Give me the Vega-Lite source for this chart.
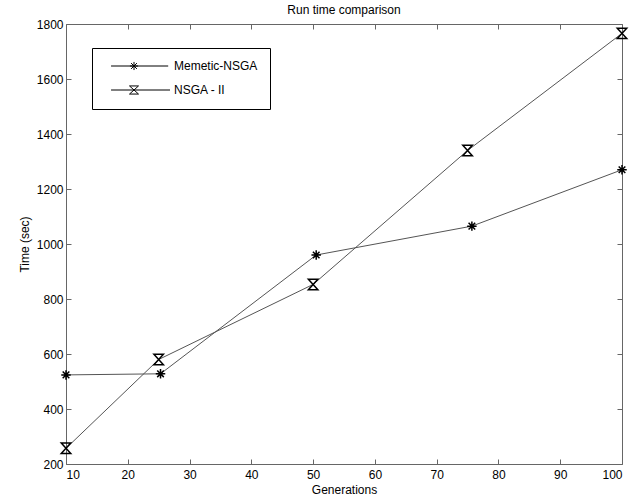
{
  "$schema": "https://vega.github.io/schema/vega-lite/v6.json",
  "width": 556,
  "height": 440,
  "autosize": "none",
  "padding": {"left": 66, "top": 24, "right": 13, "bottom": 35},
  "background": "white",
  "title": {"text": "Run time comparison", "font": "Liberation Sans", "fontSize": 12, "fontWeight": "normal", "color": "black", "offset": 1},
  "config": {
    "view": {"stroke": null},
    "axis": {"grid": false, "labelFont": "Liberation Sans", "labelFontSize": 12, "labelColor": "black", "titleFont": "Liberation Sans", "titleFontSize": 12, "titleFontWeight": "normal", "titleColor": "black", "domainColor": "#666", "tickColor": "#666", "tickSize": -5}
  },
  "data": {"values": [
    {"series": "Memetic-NSGA", "gen": 10, "time": 524},
    {"series": "Memetic-NSGA", "gen": 25.3, "time": 528},
    {"series": "Memetic-NSGA", "gen": 50.5, "time": 960},
    {"series": "Memetic-NSGA", "gen": 75.7, "time": 1065},
    {"series": "Memetic-NSGA", "gen": 100, "time": 1270},
    {"series": "NSGA - II", "gen": 10, "time": 257},
    {"series": "NSGA - II", "gen": 25, "time": 580},
    {"series": "NSGA - II", "gen": 50, "time": 853},
    {"series": "NSGA - II", "gen": 75, "time": 1340},
    {"series": "NSGA - II", "gen": 100, "time": 1766}
  ]},
  "layer": [
    {
      "mark": {"type": "line", "color": "#555", "strokeWidth": 1},
      "encoding": {
        "x": {"field": "gen", "type": "quantitative", "scale": {"domain": [10, 100], "nice": false, "zero": false}, "axis": {"values": [10,20,30,40,50,60,70,80,90,100], "title": "Generations", "labelPadding": 10, "titlePadding": 4}},
        "y": {"field": "time", "type": "quantitative", "scale": {"domain": [200, 1800], "nice": false, "zero": false}, "axis": {"values": [200,400,600,800,1000,1200,1400,1600,1800], "format": "d", "title": "Time (sec)", "labelPadding": 8, "titlePadding": 5}},
        "detail": {"field": "series"}
      }
    },
    {
      "mark": {"type": "point", "filled": false, "color": "black", "strokeWidth": 1.5, "size": 90,
        "shape": {"expr": "datum.value === 'Memetic-NSGA' ? 'M-5.1,0L7.6,0M-0.9,0L0.9,0M0,-0.9L0,0.9M-0.65,-0.65L0.65,0.65M-0.65,0.65L0.65,-0.65' : 'M-5.1,0L8,0M-1,-0.9L1,-0.9L-1,0.9L1,0.9Z'"}},
      "encoding": {
        "x": {"field": "gen", "type": "quantitative", "axis": null},
        "y": {"field": "time", "type": "quantitative", "axis": null},
        "shape": {
          "field": "series",
          "type": "nominal",
          "scale": {"range": ["M-1,0L1,0M0,-1L0,1M-0.7,-0.7L0.7,0.7M-0.7,0.7L0.7,-0.7", "M-1,-1.1L1,-1.1L-1,1.1L1,1.1Z"]},
          "legend": null
        },
        "opacity": {
          "field": "series",
          "type": "nominal",
          "scale": {"domain": ["Memetic-NSGA", "NSGA - II"], "range": [1, 1]},
          "legend": {
            "title": null, "orient": "none", "legendX": 26, "legendY": 24,
            "strokeColor": "black", "fillColor": "white", "padding": 12,
            "labelFont": "Liberation Sans", "labelFontSize": 12, "labelColor": "black",
            "symbolSize": 81, "rowPadding": 10, "labelOffset": 34, "symbolOffset": 24,
            "symbolStrokeColor": "black", "symbolStrokeWidth": 1, "symbolFillColor": "transparent"
          }
        }
      }
    },
    {
      "mark": {"type": "point", "opacity": 0},
      "encoding": {
        "x": {"field": "gen", "type": "quantitative", "axis": {"orient": "top", "values": [10,20,30,40,50,60,70,80,90,100], "labels": false, "title": null}},
        "y": {"field": "time", "type": "quantitative", "axis": {"orient": "right", "values": [200,400,600,800,1000,1200,1400,1600,1800], "labels": false, "title": null}}
      }
    }
  ],
  "resolve": {"axis": {"x": "independent", "y": "independent"}}
}
